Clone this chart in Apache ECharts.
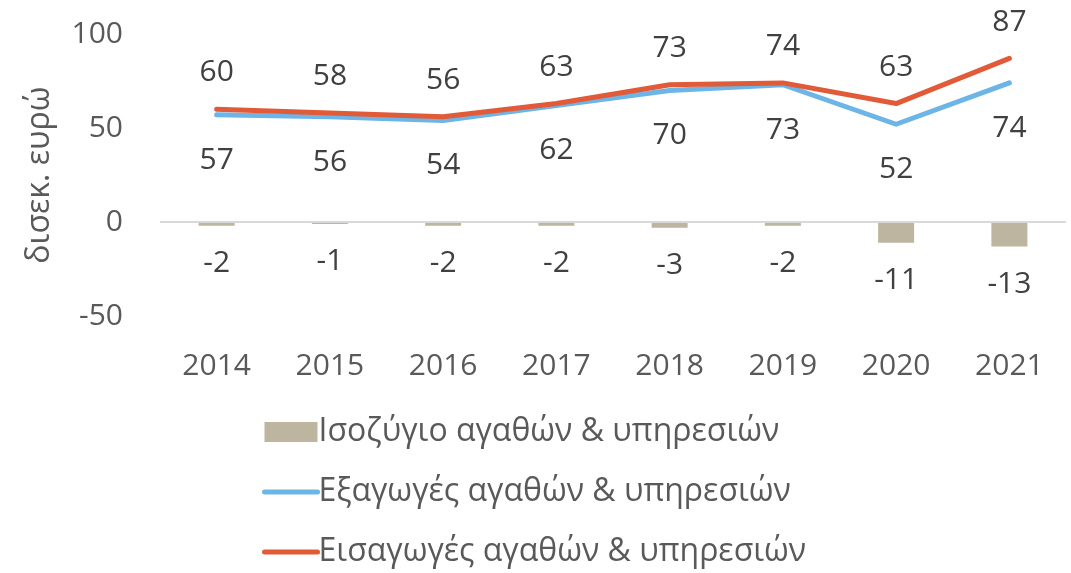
<!DOCTYPE html>
<html><head><meta charset="utf-8">
<script src="https://cdn.jsdelivr.net/npm/echarts@6/dist/echarts.min.js"></script>
<style>html,body{margin:0;padding:0;background:#fff}#c{width:1071px;height:573px}</style>
</head><body><div id="c"></div>
<script>
const years = ['2014','2015','2016','2017','2018','2019','2020','2021'];
const balance = [-2,-1,-2,-2,-3,-2,-11,-13];
const exportsV = [57,56,54,62,70,73,52,74];
const importsV = [60,58,56,63,73,74,63,87];
const names = ['Ισοζύγιο αγαθών & υπηρεσιών','Εξαγωγές αγαθών & υπηρεσιών','Εισαγωγές αγαθών & υπηρεσιών'];
const yTicks = {min:-50, max:100, interval:50};

const FONT = '"Open Sans", sans-serif';
const chart = echarts.init(document.getElementById('c'), null, {renderer:'canvas'});
chart.setOption({
  backgroundColor:'#ffffff',
  animation:false,
  textStyle:{fontFamily:FONT},
  grid:{left:160, right:5, top:34, height:282, containLabel:false},
  xAxis:{
    type:'category', data:years,
    axisLine:{show:false}, axisTick:{show:false},
    axisLabel:{color:'#595959', fontSize:30, fontFamily:FONT, margin:35}
  },
  yAxis:{
    type:'value', min:yTicks.min, max:yTicks.max, interval:yTicks.interval,
    name:'δισεκ. ευρώ', nameLocation:'middle', nameGap:104, nameRotate:90,
    nameTextStyle:{color:'#595959', fontSize:32, fontFamily:FONT},
    axisLine:{show:false}, axisTick:{show:false},
    splitLine:{show:false},
    axisLabel:{color:'#595959', fontSize:30, fontFamily:FONT, margin:37}
  },
  legend:{
    orient:'vertical', left:262, top:416, padding:0, itemWidth:53, itemHeight:20, itemGap:28,
    textStyle:{color:'#595959', fontSize:32, fontFamily:FONT, padding:[0,0,0,-4]},
    data:[
      {name:names[0], icon:'rect'},
      {name:names[1], itemStyle:{opacity:0}, lineStyle:{width:5, cap:'round', color:'#6cb5e6'}},
      {name:names[2], itemStyle:{opacity:0}, lineStyle:{width:5, cap:'round', color:'#e15b38'}}
    ]
  },
  series:[
    {
      name:names[0], type:'bar', data:balance, barWidth:36,
      itemStyle:{color:'#bdb59f'},
      label:{show:true, position:'bottom', distance:23, color:'#404040', fontSize:30, fontFamily:FONT},
      markLine:{silent:true, symbol:'none', label:{show:false},
        lineStyle:{color:'#d9d9d9', width:2, type:'solid'}, data:[{yAxis:0}]}
    },
    {
      name:names[1], type:'line', data:exportsV, symbol:'circle', symbolSize:0.5, showSymbol:true,
      lineStyle:{color:'#6cb5e6', width:5, cap:'round', join:'round'}, itemStyle:{color:'#6cb5e6'},
      labelLayout:{hideOverlap:false},
      label:{show:true, position:'bottom', distance:30, color:'#404040', fontSize:30, fontFamily:FONT}
    },
    {
      name:names[2], type:'line', data:importsV, symbol:'circle', symbolSize:0.5, showSymbol:true,
      lineStyle:{color:'#e15b38', width:5, cap:'round', join:'round'}, itemStyle:{color:'#e15b38'},
      labelLayout:{hideOverlap:false},
      label:{show:true, position:'top', distance:21, color:'#404040', fontSize:30, fontFamily:FONT}
    }
  ]
});
</script></body></html>
